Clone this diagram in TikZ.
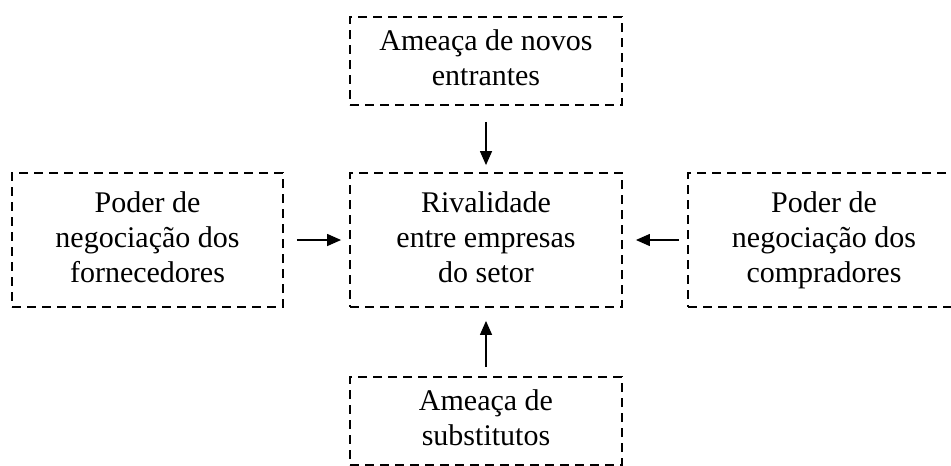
\documentclass[tikz,border=0pt]{standalone}
\usepackage{fontspec}
\setmainfont{Liberation Serif}
\usetikzlibrary{arrows.meta}
\tikzset{
  BoxStyle/.style = { rectangle, draw, line width = 1.8pt,
                     dash pattern = on 9pt off 6pt,
                     minimum width = 272pt, inner sep = 0pt, align = center,
                     font = \fontsize{30}{35}\selectfont },
  EdgeStyle/.style = { -{Triangle[length=14pt,width=12pt]}, line width = 1.3pt } }

\begin{document}
\begin{tikzpicture}[x=1pt,y=-1pt]
  \useasboundingbox (0,0) rectangle (951,466);

  \node[BoxStyle, minimum height = 134pt] (rival) at (486,240)
        {\strut Rivalidade\\entre empresas\\do setor\strut};
  \node[BoxStyle, minimum height = 88pt] (novos) at (486,61)
        {\strut Amea\c{c}a de novos\\entrantes\strut};
  \node[BoxStyle, minimum height = 88pt] (subst) at (486,421)
        {\strut Amea\c{c}a de\\substitutos\strut};
  \node[BoxStyle, minimum height = 134pt, minimum width = 271pt] (forn) at (147.5,240)
        {\strut Poder de\\negocia\c{c}\~ao dos\\fornecedores\strut};
  \node[BoxStyle, minimum height = 134pt] (comp) at (824,240)
        {\strut Poder de\\negocia\c{c}\~ao dos\\compradores\strut};

  % forces acting on the rivalry
  \draw[EdgeStyle, shorten < = 16pt, shorten > = 7pt] (novos) -- (rival);
  \draw[EdgeStyle, shorten < = 9pt, shorten > = 13pt] (subst) -- (rival);
  \draw[EdgeStyle, shorten < = 13pt, shorten > = 8pt] (forn) -- (rival);
  \draw[EdgeStyle, shorten < = 8pt, shorten > = 13pt] (comp) -- (rival);

\end{tikzpicture}
\end{document}
